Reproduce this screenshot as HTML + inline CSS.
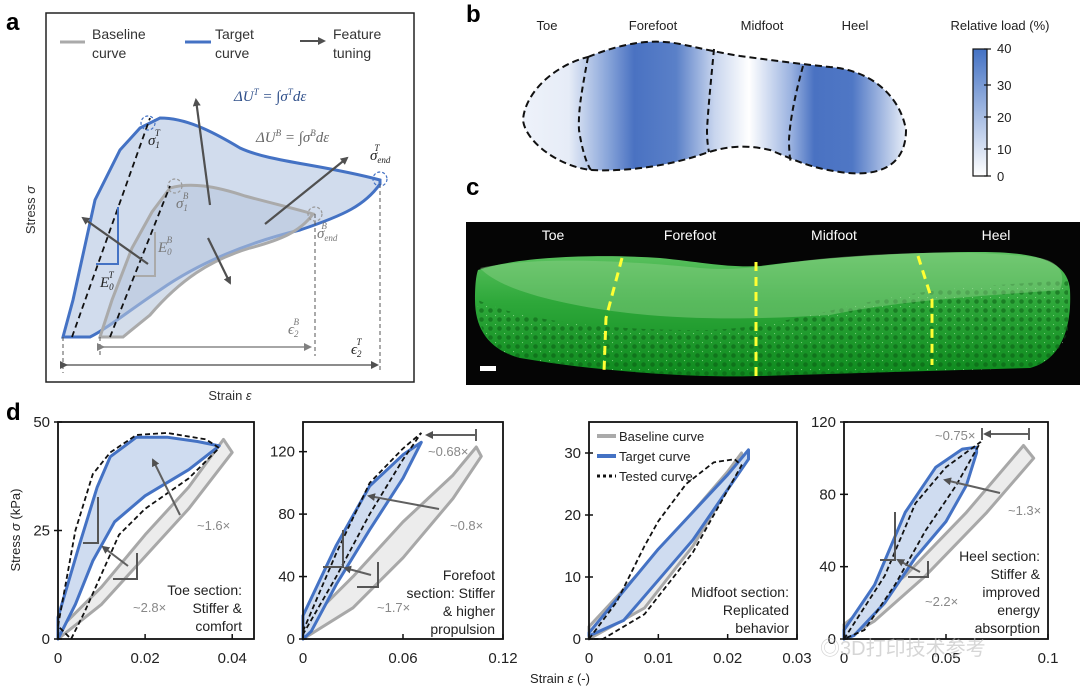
<!DOCTYPE html>
<html><head><meta charset="utf-8"><style>
body{margin:0;background:#fff;}
svg{display:block;font-family:"Liberation Sans","Noto Sans CJK SC",sans-serif;}
</style></head><body>
<svg id="fig" width="1080" height="690" viewBox="0 0 1080 690">
<defs>
<linearGradient id="load" x1="523" x2="906" y1="0" y2="0" gradientUnits="userSpaceOnUse">
<stop offset="0" stop-color="#eef2fa"/><stop offset="0.12" stop-color="#e6ecf7"/>
<stop offset="0.22" stop-color="#8aa6da"/><stop offset="0.29" stop-color="#4a72c2"/>
<stop offset="0.4" stop-color="#5a80c8"/><stop offset="0.5" stop-color="#c8d5ee"/>
<stop offset="0.59" stop-color="#ffffff"/><stop offset="0.7" stop-color="#9ab2e0"/>
<stop offset="0.76" stop-color="#4a72c2"/><stop offset="0.86" stop-color="#4f77c5"/>
<stop offset="1" stop-color="#e8eef8"/></linearGradient>
<linearGradient id="cbar" x1="0" x2="0" y1="0" y2="1"><stop offset="0" stop-color="#4472c4"/><stop offset="1" stop-color="#ffffff"/></linearGradient>
<linearGradient id="shoe" x1="0" x2="0" y1="0" y2="1"><stop offset="0" stop-color="#5cc260"/><stop offset="0.4" stop-color="#2ea83a"/><stop offset="1" stop-color="#0e8a1e"/></linearGradient>
<pattern id="lattice" width="9" height="9" patternUnits="userSpaceOnUse"><rect width="9" height="9" fill="none"/><circle cx="4.5" cy="4.5" r="2.3" fill="#0b5c14" opacity="0.55"/><circle cx="0" cy="0" r="1.2" fill="#b6f0b0" opacity="0.6"/></pattern>
<marker id="ah" markerWidth="8" markerHeight="8" refX="6" refY="4" orient="auto" markerUnits="userSpaceOnUse"><path d="M0,0 L8,4 L0,8 z" fill="#505050"/></marker>
<marker id="ahg" markerWidth="8" markerHeight="8" refX="6" refY="4" orient="auto" markerUnits="userSpaceOnUse"><path d="M0,0 L8,4 L0,8 z" fill="#808080"/></marker>
</defs>

<!-- Panel a -->
<g>
<text x="6" y="30" font-size="24" font-weight="bold">a</text>
<rect x="46" y="13" width="368" height="369" fill="#fff" stroke="#222" stroke-width="1.5"/>
<line x1="60" y1="42" x2="85" y2="42" stroke="#aaa" stroke-width="3"/>
<text x="92" y="39" font-size="14" fill="#333">Baseline</text><text x="92" y="58" font-size="14" fill="#333">curve</text>
<line x1="185" y1="42" x2="211" y2="42" stroke="#4472c4" stroke-width="3"/>
<text x="215" y="39" font-size="14" fill="#333">Target</text><text x="215" y="58" font-size="14" fill="#333">curve</text>
<line x1="300" y1="41" x2="324" y2="41" stroke="#505050" stroke-width="2" marker-end="url(#ah)"/>
<text x="333" y="39" font-size="14" fill="#333">Feature</text><text x="333" y="58" font-size="14" fill="#333">tuning</text>
<path d="M63,337 L73,300 L95,200 L120,150 L140,128 L160,118 C185,118 210,130 240,148 C270,162 320,164 380,180 L380,184 C365,205 345,215 300,230 C250,242 200,262 160,290 C130,310 105,330 90,337 Z" fill="#c9d6ea" fill-opacity="0.85" stroke="#4472c4" stroke-width="3"/>
<path d="M100,337 L112,300 L132,248 L152,212 L170,188 C190,182 215,186 245,196 C275,204 300,210 313,214 C300,232 280,240 250,248 C210,260 180,280 150,315 L123,337 Z" fill="#b8c6dc" fill-opacity="0.6" stroke="#aaa" stroke-width="3"/>
<line x1="72" y1="337" x2="150" y2="118" stroke="#111" stroke-width="1.8" stroke-dasharray="6,4"/>
<line x1="110" y1="337" x2="170" y2="186" stroke="#111" stroke-width="1.8" stroke-dasharray="6,4"/>
<path d="M96,264 L118,264 L118,207" fill="none" stroke="#4472c4" stroke-width="2"/>
<path d="M135,276 L155,276 L155,232" fill="none" stroke="#aaa" stroke-width="2"/>
<g stroke="#505050" stroke-width="2.2">
<line x1="210" y1="205" x2="196" y2="100" marker-end="url(#ah)"/>
<line x1="148" y1="264" x2="83" y2="218" marker-end="url(#ah)"/>
<line x1="265" y1="224" x2="347" y2="158" marker-end="url(#ah)"/>
<line x1="208" y1="238" x2="230" y2="283" marker-end="url(#ah)"/>
</g>
<g stroke="#555" stroke-width="1" stroke-dasharray="4,3"><line x1="63" y1="337" x2="63" y2="373"/><line x1="100" y1="337" x2="100" y2="356"/><line x1="315" y1="214" x2="315" y2="356"/><line x1="380" y1="184" x2="380" y2="373"/></g>
<line x1="103" y1="347" x2="310" y2="347" stroke="#888" stroke-width="1.5" marker-end="url(#ahg)" marker-start="url(#ahg)"/>
<line x1="66" y1="365" x2="377" y2="365" stroke="#666" stroke-width="1.5" marker-end="url(#ah)" marker-start="url(#ah)"/>
<g fill="none" stroke="#4472c4" stroke-width="1.2" stroke-dasharray="3,2"><circle cx="148" cy="123" r="7"/><circle cx="380" cy="179" r="7"/></g>
<g fill="none" stroke="#999" stroke-width="1.2" stroke-dasharray="3,2"><circle cx="175" cy="186" r="7"/><circle cx="315" cy="214" r="7"/></g>
<g font-family="Liberation Serif,serif" font-style="italic" font-size="15">
<text x="234" y="101" fill="#2f4f8a">ΔU<tspan font-size="9" dy="-6">T</tspan><tspan dy="6"> = ∫σ</tspan><tspan font-size="9" dy="-6">T</tspan><tspan dy="6">dε</tspan></text>
<text x="256" y="142" fill="#666">ΔU<tspan font-size="9" dy="-6">B</tspan><tspan dy="6"> = ∫σ</tspan><tspan font-size="9" dy="-6">B</tspan><tspan dy="6">dε</tspan></text>
<text x="148" y="145" fill="#222">σ<tspan font-size="9" dy="3">1</tspan><tspan font-size="9" dx="-5" dy="-12">T</tspan></text>
<text x="176" y="208" fill="#777">σ<tspan font-size="9" dy="3">1</tspan><tspan font-size="9" dx="-5" dy="-12">B</tspan></text>
<text x="370" y="160" fill="#222">σ<tspan font-size="9" dy="3">end</tspan><tspan font-size="9" dx="-16" dy="-12">T</tspan></text>
<text x="317" y="238" fill="#777">σ<tspan font-size="9" dy="3">end</tspan><tspan font-size="9" dx="-16" dy="-12">B</tspan></text>
<text x="100" y="287" fill="#222">E<tspan font-size="9" dy="3">0</tspan><tspan font-size="9" dx="-5" dy="-12">T</tspan></text>
<text x="158" y="252" fill="#777">E<tspan font-size="9" dy="3">0</tspan><tspan font-size="9" dx="-5" dy="-12">B</tspan></text>
<text x="288" y="334" fill="#777">ϵ<tspan font-size="9" dy="3">2</tspan><tspan font-size="9" dx="-5" dy="-12">B</tspan></text>
<text x="351" y="354" fill="#222">ϵ<tspan font-size="9" dy="3">2</tspan><tspan font-size="9" dx="-5" dy="-12">T</tspan></text>
</g>
<text transform="translate(35,210) rotate(-90)" text-anchor="middle" font-size="13" fill="#333">Stress <tspan font-style="italic">σ</tspan></text>
<text x="230" y="400" text-anchor="middle" font-size="13" fill="#333">Strain <tspan font-style="italic">ε</tspan></text>
</g>

<!-- Panel b -->
<g>
<text x="466" y="22" font-size="24" font-weight="bold">b</text>
<g font-size="13" fill="#222" text-anchor="middle">
<text x="547" y="30">Toe</text><text x="653" y="30">Forefoot</text><text x="762" y="30">Midfoot</text><text x="855" y="30">Heel</text></g>
<path d="M588,57 C620,44 650,38 680,44 C700,48 715,52 740,56 C770,60 800,64 830,67 C870,70 900,95 906,130 C906,165 880,178 840,172 C810,168 795,160 770,150 C740,143 720,148 700,155 C670,165 630,172 590,170 C555,165 525,140 523,120 C525,92 555,65 588,57 Z" fill="url(#load)" stroke="#111" stroke-width="2" stroke-dasharray="7,4"/>
<g fill="none" stroke="#111" stroke-width="2" stroke-dasharray="6,4">
<path d="M588,57 C582,90 578,110 579,130 C582,150 587,165 591,170"/>
<path d="M714,49 C711,80 708,110 707,130 C707,140 708,148 709,152"/>
<path d="M803,66 C795,95 790,120 789,140 C789,150 790,160 791,163"/>
</g>
<text x="1000" y="30" text-anchor="middle" font-size="13" fill="#222">Relative load (%)</text>
<rect x="973" y="49" width="14" height="127" fill="url(#cbar)" stroke="#111" stroke-width="1.2"/>
<g font-size="13" fill="#222"><text x="997" y="53">40</text><text x="997" y="90">30</text><text x="997" y="122">20</text><text x="997" y="154">10</text><text x="997" y="181">0</text></g>
<g stroke="#111" stroke-width="1.2"><line x1="984" y1="49" x2="991" y2="49"/><line x1="984" y1="85" x2="991" y2="85"/><line x1="984" y1="117" x2="991" y2="117"/><line x1="984" y1="149" x2="991" y2="149"/><line x1="984" y1="176" x2="991" y2="176"/></g>
</g>

<!-- Panel c -->
<g>
<text x="466" y="195" font-size="24" font-weight="bold">c</text>
<rect x="466" y="222" width="614" height="163" fill="#050505"/>
<path d="M478,270 C520,256 600,254 660,258 C700,262 730,268 760,266 C820,258 900,252 980,252 C1040,252 1068,262 1070,290 C1072,330 1060,360 1030,368 L760,376 C700,378 600,372 520,358 C490,350 475,330 475,300 C475,285 476,276 478,270 Z" fill="url(#shoe)"/>
<path d="M478,300 C520,320 600,330 700,330 C780,330 850,300 940,290 C1000,284 1050,282 1068,280 L1068,330 C1060,360 1030,368 1030,368 L760,376 C700,378 600,372 520,358 C490,350 476,330 478,300 Z" fill="url(#lattice)"/>
<path d="M480,268 C540,255 640,262 700,268 C750,272 780,262 830,258 C900,252 980,250 1040,258 C1060,262 1066,274 1060,290 C1000,295 900,300 830,315 C780,318 700,322 620,312 C560,304 500,290 480,268 Z" fill="#8ed08a" opacity="0.45"/>
<g stroke="#ffff33" stroke-width="3" stroke-dasharray="9,6" fill="none">
<path d="M622,258 L606,318 L604,372"/><path d="M756,262 L756,376"/><path d="M918,256 L932,300 L932,365"/></g>
<rect x="480" y="366" width="16" height="5" fill="#fff"/>
<g font-size="14" fill="#fff" text-anchor="middle"><text x="553" y="240">Toe</text><text x="690" y="240">Forefoot</text><text x="834" y="240">Midfoot</text><text x="996" y="240">Heel</text></g>
</g>

<!-- Panel d -->
<text x="6" y="420" font-size="24" font-weight="bold">d</text>
<text transform="translate(20,530) rotate(-90)" text-anchor="middle" font-size="13" fill="#222">Stress <tspan font-style="italic">σ</tspan> (kPa)</text>
<text x="560" y="683" text-anchor="middle" font-size="13" fill="#222">Strain <tspan font-style="italic">ε</tspan> (-)</text>
<g id="dplots"></g>
<text x="820" y="655" font-size="20" fill="#bbb" opacity="0.6">◎3D打印技术参考</text>
</svg>
<script>
// Plot 1 (Toe)
const toeBaseline=[[0,2],[0.01,12],[0.02,24],[0.03,35],[0.038,46],[0.04,43],[0.03,30],[0.02,19],[0.01,8],[0,0]];
const toeTarget=[[0,5],[0.005,22],[0.009,35],[0.012,42],[0.018,46.5],[0.025,46.5],[0.032,45.5],[0.037,44.5],[0.03,39],[0.02,33],[0.013,27],[0.008,18],[0.004,8],[0,0]];
const toeTested=[[0,3],[0.004,25],[0.008,38],[0.012,43],[0.018,47],[0.025,47.5],[0.034,46],[0.037,44],[0.03,37],[0.02,30],[0.014,24],[0.01,15],[0.006,6],[0.003,0]];
const toeXTicks=[0,0.02,0.04];const toeXLabels=["0","0.02","0.04"];
const toeYTicks=[0,25,50];const toeYLabels=["0","25","50"];
// Plot 2 (Forefoot)
const foreBaseline=[[0,8],[0.03,40],[0.06,75],[0.09,105],[0.104,123],[0.107,117],[0.09,90],[0.06,52],[0.03,20],[0,0]];
const foreTarget=[[0,15],[0.02,60],[0.04,98],[0.06,118],[0.071,126],[0.06,103],[0.04,70],[0.02,35],[0.005,5],[0,0]];
const foreTested=[[0,5],[0.02,55],[0.04,100],[0.06,122],[0.071,132],[0.06,115],[0.04,80],[0.02,40],[0,3]];
const foreXTicks=[0,0.06,0.12];const foreXLabels=["0","0.06","0.12"];
const foreYTicks=[0,40,80,120];const foreYLabels=["0","40","80","120"];
// Plot 3 (Midfoot)
const midBaseline=[[0,2],[0.01,14],[0.02,27],[0.022,30],[0.022,28],[0.015,15],[0.008,5],[0,0]];
const midTarget=[[0,1],[0.01,14.5],[0.02,26.5],[0.023,30.5],[0.023,29],[0.015,16],[0.005,3],[0,0.5]];
const midTested=[[0,0],[0.004,6],[0.008,15],[0.01,19],[0.014,25],[0.018,28.5],[0.021,29],[0.022,28],[0.015,14],[0.008,4],[0.002,0]];
const midXTicks=[0,0.01,0.02,0.03];const midXLabels=["0","0.01","0.02","0.03"];
const midYTicks=[0,10,20,30];const midYLabels=["0","10","20","30"];
// Plot 4 (Heel)
const heelBaseline=[[0,8],[0.03,35],[0.06,70],[0.088,107],[0.093,100],[0.07,70],[0.04,35],[0.015,10],[0,0]];
const heelTarget=[[0,5],[0.015,30],[0.03,70],[0.045,95],[0.058,105],[0.065,106],[0.065,103],[0.06,85],[0.05,65],[0.035,45],[0.02,20],[0.005,2],[0,0]];
const heelTested=[[0,0],[0.02,35],[0.035,75],[0.05,95],[0.067,109],[0.055,85],[0.04,60],[0.025,30],[0.01,5],[0,0]];
const heelXTicks=[0,0.05,0.1];const heelXLabels=["0","0.05","0.1"];
const heelYTicks=[0,40,80,120];const heelYLabels=["0","40","80","120"];

const NS="http://www.w3.org/2000/svg";
const root=document.getElementById('dplots');
function mk(tag,attrs,parent){const e=document.createElementNS(NS,tag);for(const k in attrs)e.setAttribute(k,attrs[k]);(parent||root).appendChild(e);return e;}
function txt(x,y,s,attrs,parent){const e=mk('text',Object.assign({x:x,y:y,'font-size':15,fill:'#222'},attrs||{}),parent);e.textContent=s;return e;}

function plot(name,box,xmax,ymax,base,target,tested,xt,xl,yt,yl,notes){
  const g=mk('g',{});
  
  
  const sx=v=>box.x0+(v/xmax)*(box.x1-box.x0);
  const sy=v=>box.y1-(v/ymax)*(box.y1-box.y0);
  const pts=a=>a.map(p=>sx(p[0]).toFixed(1)+','+sy(p[1]).toFixed(1)).join(' ');
  const b=mk('polygon',{points:pts(base),fill:'#ececec',stroke:'#a8a8a8','stroke-width':3,'stroke-linejoin':'round'},g);
  
  
  const t=mk('polygon',{points:pts(target),fill:'#cfdcf0',stroke:'#4472c4','stroke-width':3,'stroke-linejoin':'round'},g);
  
  
  const d=mk('polyline',{points:pts(tested.concat([tested[0]])),fill:'none',stroke:'#111','stroke-width':1.8,'stroke-dasharray':'5,3'},g);
  
  
  const fr=mk('rect',{x:box.x0,y:box.y0,width:box.x1-box.x0,height:box.y1-box.y0,fill:'none',stroke:'#111','stroke-width':1.8},g);
  
  
  xt.forEach((v,i)=>{const x=sx(v);
    mk('line',{x1:x,y1:box.y1,x2:x,y2:box.y1-5,stroke:'#111','stroke-width':1.5},g);
    const l=txt(x,box.y1+24,xl[i],{'text-anchor':'middle'},g);
    
    });
  yt.forEach((v,i)=>{const y=sy(v);
    mk('line',{x1:box.x0-4,y1:y,x2:box.x0+4,y2:y,stroke:'#111','stroke-width':1.5},g);
    const l=txt(box.x0-8,y+5,yl[i],{'text-anchor':'end'},g);
    
    });
  notes(g,sx,sy);
}
function arrow(g,x1,y1,x2,y2){mk('line',{x1:x1,y1:y1,x2:x2,y2:y2,stroke:'#606060','stroke-width':2,'marker-end':'url(#ah)'},g);}
function tri(g,x1,y1,x2,y2,c){mk('path',{d:`M${x1},${y2} L${x2},${y2} L${x2},${y1}`,fill:'none',stroke:c,'stroke-width':2},g);}
function lines(g,x,y,arr,anchor,col){arr.forEach((s,i)=>txt(x,y+i*18,s,{'text-anchor':anchor||'end','font-size':14,fill:col||'#222'},g));}

plot('toe-plot',{x0:58,x1:254,y0:422,y1:639},0.045,50,toeBaseline,toeTarget,toeTested,toeXTicks,toeXLabels,toeYTicks,toeYLabels,(g)=>{
  tri(g,83,497,98,543,'#555');tri(g,113,553,137,579,'#555');
  arrow(g,180,515,153,460);arrow(g,128,566,103,547);
  txt(197,530,'~1.6×',{'font-size':13,fill:'#888'},g);txt(133,612,'~2.8×',{'font-size':13,fill:'#888'},g);
  lines(g,242,595,['Toe section:','Stiffer &','comfort']);
});
plot('forefoot-plot',{x0:303,x1:503,y0:422,y1:639},0.12,139,foreBaseline,foreTarget,foreTested,foreXTicks,foreXLabels,foreYTicks,foreYLabels,(g)=>{
  tri(g,323,530,343,567,'#555');tri(g,357,562,378,587,'#555');
  arrow(g,439,509,369,496);arrow(g,371,575,345,568);
  mk('line',{x1:476,y1:429,x2:476,y2:441,stroke:'#606060','stroke-width':2},g);
  mk('line',{x1:476,y1:435,x2:427,y2:435,stroke:'#606060','stroke-width':2,'marker-end':'url(#ah)'},g);
  txt(428,456,'~0.68×',{'font-size':13,fill:'#888'},g);txt(450,530,'~0.8×',{'font-size':13,fill:'#888'},g);txt(377,612,'~1.7×',{'font-size':13,fill:'#888'},g);
  lines(g,495,580,['Forefoot','section: Stiffer','& higher','propulsion']);
});
plot('midfoot-plot',{x0:589,x1:797,y0:422,y1:639},0.03,35,midBaseline,midTarget,midTested,midXTicks,midXLabels,midYTicks,midYLabels,(g)=>{
  mk('line',{x1:597,y1:436,x2:616,y2:436,stroke:'#aaa','stroke-width':4},g);
  mk('line',{x1:597,y1:456,x2:616,y2:456,stroke:'#4472c4','stroke-width':4},g);
  mk('line',{x1:597,y1:476,x2:616,y2:476,stroke:'#111','stroke-width':3,'stroke-dasharray':'3,3'},g);
  txt(619,441,'Baseline curve',{'font-size':13},g);txt(619,461,'Target curve',{'font-size':13},g);txt(619,481,'Tested curve',{'font-size':13},g);
  lines(g,789,597,['Midfoot section:','Replicated','behavior']);
});
plot('heel-plot',{x0:844,x1:1048,y0:422,y1:639},0.1,120,heelBaseline,heelTarget,heelTested,heelXTicks,heelXLabels,heelYTicks,heelYLabels,(g)=>{
  tri(g,880,512,895,560,'#555');tri(g,908,561,928,577,'#555');
  arrow(g,1000,493,945,480);arrow(g,920,572,898,560);
  mk('line',{x1:1029,y1:434,x2:985,y2:434,stroke:'#606060','stroke-width':2,'marker-end':'url(#ah)'},g);
  mk('line',{x1:1029,y1:428,x2:1029,y2:440,stroke:'#606060','stroke-width':2},g);
  mk('line',{x1:982,y1:428,x2:982,y2:440,stroke:'#606060','stroke-width':2},g);
  txt(935,440,'~0.75×',{'font-size':13,fill:'#888'},g);txt(1008,515,'~1.3×',{'font-size':13,fill:'#888'},g);txt(925,606,'~2.2×',{'font-size':13,fill:'#888'},g);
  lines(g,1040,561,['Heel section:','Stiffer &','improved','energy','absorption']);
});
</script>
</body></html>
